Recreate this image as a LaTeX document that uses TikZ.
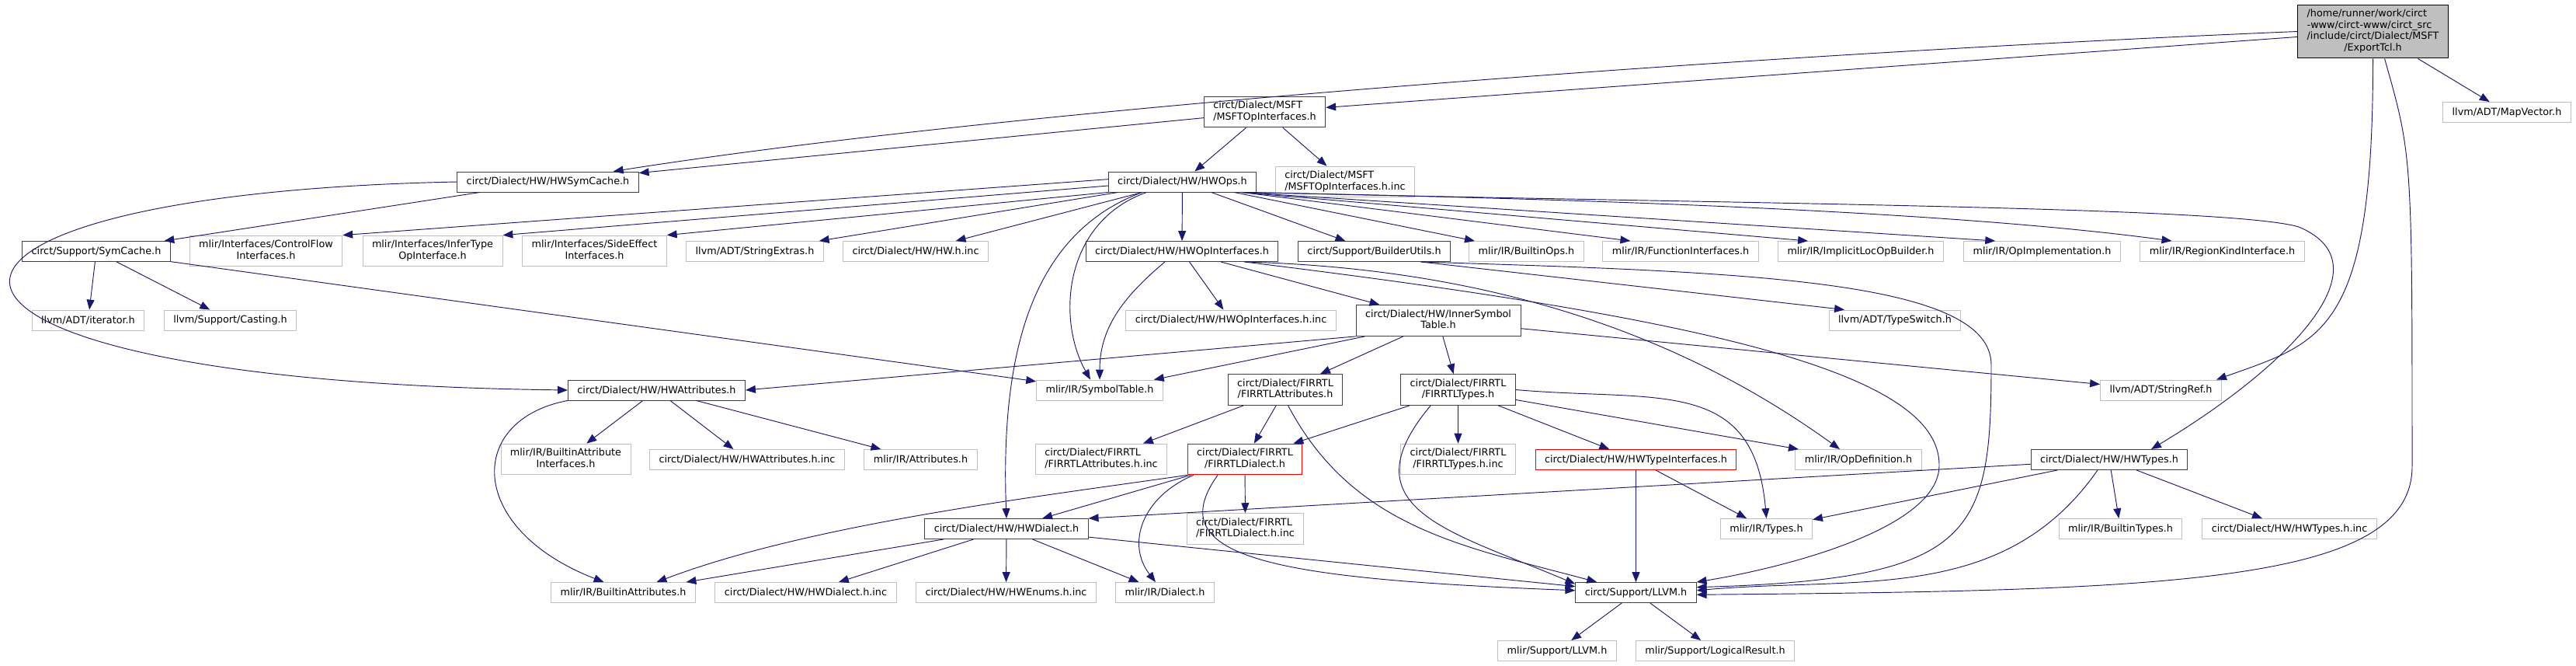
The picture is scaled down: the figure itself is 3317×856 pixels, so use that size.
\documentclass[tikz,border=0pt]{standalone}
\usepackage{fontspec}
\setmainfont{DejaVu Sans}
\usepackage{tikz}
\usetikzlibrary{arrows.meta,calc}

\definecolor{midblue}{RGB}{25,25,112}
\definecolor{grey25}{RGB}{64,64,64}
\definecolor{grey75}{RGB}{191,191,191}

% two line label: first line left, last line centred
\newcommand{\twolines}[2]{\begin{tabular}{@{}l@{}}#1\\\multicolumn{1}{@{}c@{}}{#2}\end{tabular}}

\begin{document}
\begin{tikzpicture}[
    x=0.03cm, y=-0.03cm,
    docnode/.style={rectangle, draw=grey25, line width=0.8pt, fill=white, inner xsep=0.36cm, inner ysep=4.6pt, minimum height=0.78cm, font=\fontsize{10.9}{12.4}\selectfont},
    extnode/.style={docnode, draw=grey75},
    truncnode/.style={docnode, draw=red},
    rootnode/.style={docnode, draw=black, fill=grey75},
    incl/.style={-{Triangle[length=11pt,width=8.5pt]}, draw=midblue, line width=0.8pt}
]
\useasboundingbox (0,0) rectangle (3317,856);

% files
\node[rootnode] (root) at (3055.5,40.5) {\begin{tabular}{@{}l@{}}/home/runner/work/circt\\-www/circt-www/circt\_src\\/include/circt/Dialect/MSFT\\\multicolumn{1}{@{}c@{}}{/ExportTcl.h}\end{tabular}};
\node[extnode] (mapvector) at (3228,144.5) {llvm/ADT/MapVector.h};
\node[docnode] (msft) at (1628.5,144) {\twolines{circt/Dialect/MSFT}{/MSFTOpInterfaces.h}};
\node[docnode] (hwsymcache) at (705.5,234) {circt/Dialect/HW/HWSymCache.h};
\node[docnode] (hwops) at (1522.5,234) {circt/Dialect/HW/HWOps.h};
\node[extnode] (msftinc) at (1732,234) {\twolines{circt/Dialect/MSFT}{/MSFTOpInterfaces.h.inc}};

\node[docnode] (symcache) at (124,323.5) {circt/Support/SymCache.h};
\node[extnode] (controlflow) at (342.5,323) {\twolines{mlir/Interfaces/ControlFlow}{Interfaces.h}};
\node[extnode] (infertype) at (557,323) {\twolines{mlir/Interfaces/InferType}{OpInterface.h}};
\node[extnode] (sideeffect) at (765.5,323) {\twolines{mlir/Interfaces/SideEffect}{Interfaces.h}};
\node[extnode] (stringextras) at (972,323.5) {llvm/ADT/StringExtras.h};
\node[extnode] (hwinc) at (1179,323.5) {circt/Dialect/HW/HW.h.inc};
\node[docnode] (hwopif) at (1522,323.5) {circt/Dialect/HW/HWOpInterfaces.h};
\node[docnode] (builderutils) at (1769.5,323.5) {circt/Support/BuilderUtils.h};
\node[extnode] (builtinops) at (1965.5,323.5) {mlir/IR/BuiltinOps.h};
\node[extnode] (funcif) at (2164,323.5) {mlir/IR/FunctionInterfaces.h};
\node[extnode] (implicitloc) at (2396,323.5) {mlir/IR/ImplicitLocOpBuilder.h};
\node[extnode] (opimpl) at (2629.5,323.5) {mlir/IR/OpImplementation.h};
\node[extnode] (regionkind) at (2861.5,323.5) {mlir/IR/RegionKindInterface.h};

\node[extnode] (iterator) at (113.5,412) {llvm/ADT/iterator.h};
\node[extnode] (casting) at (296.5,412) {llvm/Support/Casting.h};
\node[extnode] (hwopifinc) at (1585,412) {circt/Dialect/HW/HWOpInterfaces.h.inc};
\node[docnode] (innersym) at (1852,412.5) {\twolines{circt/Dialect/HW/InnerSymbol}{Table.h}};
\node[extnode] (typeswitch) at (2440,412) {llvm/ADT/TypeSwitch.h};

\node[docnode] (hwattr) at (845.5,502) {circt/Dialect/HW/HWAttributes.h};
\node[extnode] (symtable) at (1416,502) {mlir/IR/SymbolTable.h};
\node[docnode] (firattr) at (1655,501.5) {\twolines{circt/Dialect/FIRRTL}{/FIRRTLAttributes.h}};
\node[docnode] (firtypes) at (1877.5,501.5) {\twolines{circt/Dialect/FIRRTL}{/FIRRTLTypes.h}};
\node[extnode] (stringref) at (2782.5,502) {llvm/ADT/StringRef.h};

\node[extnode] (builtinattrif) at (728.5,591) {\twolines{mlir/IR/BuiltinAttribute}{Interfaces.h}};
\node[extnode] (hwattrinc) at (962,591.5) {circt/Dialect/HW/HWAttributes.h.inc};
\node[extnode] (attributes) at (1185.5,591.5) {mlir/IR/Attributes.h};
\node[extnode] (firattrinc) at (1418,591) {\twolines{circt/Dialect/FIRRTL}{/FIRRTLAttributes.h.inc}};
\node[truncnode] (firdialect) at (1603,591) {\twolines{circt/Dialect/FIRRTL}{/FIRRTLDialect.h}};
\node[extnode] (firtypesinc) at (1877.5,591) {\twolines{circt/Dialect/FIRRTL}{/FIRRTLTypes.h.inc}};
\node[truncnode] (hwtypeif) at (2106.5,591.5) {circt/Dialect/HW/HWTypeInterfaces.h};
\node[extnode] (opdef) at (2393,591.5) {mlir/IR/OpDefinition.h};
\node[docnode] (hwtypes) at (2716,591.5) {circt/Dialect/HW/HWTypes.h};

\node[docnode] (hwdialect) at (1296,680.5) {circt/Dialect/HW/HWDialect.h};
\node[extnode] (firdialectinc) at (1603.5,680.5) {\twolines{circt/Dialect/FIRRTL}{/FIRRTLDialect.h.inc}};
\node[extnode] (types) at (2274.5,680.5) {mlir/IR/Types.h};
\node[extnode] (builtintypes) at (2730.5,680.5) {mlir/IR/BuiltinTypes.h};
\node[extnode] (hwtypesinc) at (2948,680.5) {circt/Dialect/HW/HWTypes.h.inc};

\node[extnode] (builtinattr) at (802.5,762.5) {mlir/IR/BuiltinAttributes.h};
\node[extnode] (hwdialectinc) at (1037.5,762.5) {circt/Dialect/HW/HWDialect.h.inc};
\node[extnode] (hwenumsinc) at (1295.5,762.5) {circt/Dialect/HW/HWEnums.h.inc};
\node[extnode] (dialect) at (1500,762.5) {mlir/IR/Dialect.h};
\node[docnode] (llvm) at (2106.5,762.5) {circt/Support/LLVM.h};

\node[extnode] (mlirllvm) at (2005,837.5) {mlir/Support/LLVM.h};
\node[extnode] (logicalresult) at (2208.5,837.5) {mlir/Support/LogicalResult.h};

% includes of the root file
\draw[incl] (root) -- (msft);
\draw[incl] (root.west) .. controls (2250,70) and (1300,140) .. ($(hwsymcache.north east)+(-33,0)$);
\draw[incl] (root) -- (mapvector);
\draw[incl] (root.south) .. controls (3056,430) and (2990,440) .. ($(stringref.north east)+(-7,0)$);
\draw[incl] ($(root.south)+(15,0)$) .. controls (3106,200) .. (3106,600) .. controls (3106,750) and (2800,760) .. (llvm.-2);

\draw[incl] (msft) -- (hwsymcache);
\draw[incl] (msft) -- (hwops);
\draw[incl] (msft) -- (msftinc);

\draw[incl] (hwsymcache) -- (symcache);
\draw[incl] (hwsymcache.west) .. controls (-200,250) and (-200,490) .. (hwattr.west);

\draw[incl] (symcache) -- (iterator);
\draw[incl] (symcache) -- (casting);
\draw[incl] (symcache) -- (symtable);

% includes of HWOps.h
\draw[incl] (hwops.178) -- (controlflow.north east);
\draw[incl] (hwops.183) -- (infertype.north east);
\draw[incl] (hwops.south west) -- (sideeffect.north east);
\draw[incl] (hwops) -- (stringextras);
\draw[incl] (hwops) -- (hwinc);
\draw[incl] ($(hwops.south)+(-46,0)$) .. controls (1370,285) and (1360,410) .. ($(symtable.north)+(-12,0)$);
\draw[incl] ($(hwops.south)+(-52,0)$) .. controls (1330,300) and (1288,450) .. (hwdialect.north);
\draw[incl] (hwops) -- (hwopif);
\draw[incl] (hwops) -- (builderutils);
\draw[incl] (hwops) -- (builtinops);
\draw[incl] (hwops.-10) -- ($(funcif.north west)+(36,0)$);
\draw[incl] (hwops.-10) -- ($(implicitloc.north west)+(39,0)$);
\draw[incl] (hwops.-10) -- ($(opimpl.north west)+(41,0)$);
\draw[incl] (hwops.-10) .. controls (2000,255) and (2500,270) .. ($(regionkind.north west)+(41,0)$);
\draw[incl] ($(hwops.south east)+(-8,0)$) .. controls (2200,262) and (2870,265) .. (2960,292) .. controls (3075,340) and (2950,470) .. ($(hwtypes.north)+(54,0)$);

\draw[incl] ($(hwopif.south)+(-22,0)$) to[out=-140,in=90] (symtable.north);
\draw[incl] (hwopif) -- (hwopifinc);
\draw[incl] (hwopif) -- (innersym);
\draw[incl] ($(hwopif.south east)+(-44,0)$) .. controls (1900,345) and (2150,420) .. ($(opdef.north)+(-24,0)$);
\draw[incl] ($(hwopif.south east)+(-44,0)$) .. controls (2200,410) and (2500,480) .. (2497,600) .. controls (2495,680) and (2300,730) .. (llvm.north east);

\draw[incl] ($(builderutils.south)+(60,0)$) -- ($(typeswitch.north)+(-65,0)$);
\draw[incl] ($(builderutils.south)+(60,0)$) .. controls (2250,350) and (2565,360) .. (2564,470) .. controls (2564,690) and (2540,745) .. (llvm.5);

\draw[incl] (innersym.south west) -- (hwattr.east);
\draw[incl] ($(innersym.south west)+(12,0)$) -- ($(symtable.north east)+(-12,0)$);
\draw[incl] (innersym) -- (firattr);
\draw[incl] (innersym) -- (firtypes);
\draw[incl] (innersym) -- (stringref);

\draw[incl] (hwattr) -- (builtinattrif);
\draw[incl] (hwattr) -- (hwattrinc);
\draw[incl] (hwattr) -- (attributes);
\draw[incl] (hwattr.south west) .. controls (600,540) and (600,680) .. ($(builtinattr.north)+(-25,0)$);

% FIRRTL headers
\draw[incl] (firattr) -- (firattrinc);
\draw[incl] (firattr) -- (firdialect);
\draw[incl] (firattr.-80) to[out=-62,in=165] (llvm.165);

\draw[incl] (firtypes) -- (firdialect);
\draw[incl] (firtypes.-150) to[out=-130,in=157,looseness=1.5] (llvm.172);
\draw[incl] (firtypes) -- (firtypesinc);
\draw[incl] (firtypes) -- (hwtypeif);
\draw[incl] (firtypes) -- (opdef);
\draw[incl] (firtypes.east) to[out=-5,in=95,looseness=1.3] (types.north);

\draw[incl] (firdialect) -- (firdialectinc);
\draw[incl] (firdialect) -- (hwdialect);
\draw[incl] (firdialect.south west) .. controls (1329,640) and (1041,675) .. ($(builtinattr.north)+(43,0)$);
\draw[incl] ($(firdialect.south west)+(8,0)$) .. controls (1470,640) and (1450,700) .. ($(dialect.north)+(-12,0)$);
\draw[incl] ($(firdialect.south)+(-35,0)$) .. controls (1490,720) and (1650,745) .. (llvm.178);

\draw[incl] (hwtypeif) -- (types);
\draw[incl] (hwtypeif) -- (llvm);

\draw[incl] (hwtypes) -- (hwdialect.north east);
\draw[incl] (hwtypes) -- (types);
\draw[incl] (hwtypes) -- (builtintypes);
\draw[incl] (hwtypes) -- (hwtypesinc);
\draw[incl] ($(hwtypes.south)+(-15,0)$) to[out=-125,in=5] (llvm.2);

\draw[incl] (hwdialect) -- (builtinattr);
\draw[incl] (hwdialect) -- (hwdialectinc);
\draw[incl] (hwdialect) -- (hwenumsinc);
\draw[incl] (hwdialect) -- (dialect);
\draw[incl] (hwdialect) -- (llvm);

\draw[incl] (llvm) -- (mlirllvm);
\draw[incl] (llvm) -- (logicalresult);
\end{tikzpicture}
\end{document}
